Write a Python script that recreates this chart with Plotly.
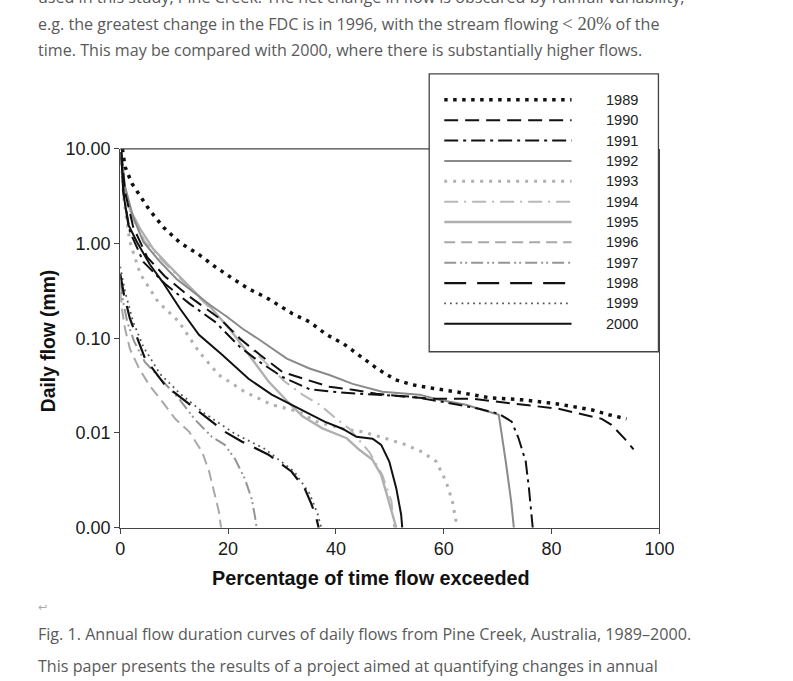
import plotly.graph_objects as go

W, H = 793, 681

# percentage of time flow exceeded / daily flow (mm)
pct_1989 = [0.4, 0.9, 2.2, 3.3, 5.4, 8.1, 11.1, 14.4, 17.6, 20.9, 23.8, 27.2, 32.0, 35.1, 38.3, 41.4,
            44.7, 47.7, 51.0, 54.2, 57.3, 62.3, 68.4, 74.5, 80.8, 87.4, 90.6, 93.9]
flow_1989 = [10.0, 6.46, 4.28, 3.44, 2.27, 1.47, 1.02, 0.78, 0.569, 0.425, 0.333, 0.267, 0.181, 0.149,
             0.109, 0.0875, 0.0638, 0.0476, 0.0365, 0.0323, 0.030, 0.0272, 0.0236, 0.0224, 0.0204,
             0.0176, 0.0156, 0.0141]

pct_1990 = [0.2, 0.9, 2.4, 5.0, 8.3, 12.9, 18.5, 22.2, 25.9, 30.1, 34.6, 38.8, 43.1, 47.5, 53.0, 57.9,
            65.2, 73.4, 81.3, 89.3, 91.1, 93.7, 95.2]
flow_1990 = [9.3, 3.5, 1.5, 0.72, 0.45, 0.274, 0.161, 0.099, 0.067, 0.044, 0.0365, 0.0308, 0.0286, 0.026,
             0.0241, 0.023, 0.023, 0.0204, 0.018, 0.0141, 0.0122, 0.0085, 0.0067]

pct_1991 = [0.2, 0.7, 1.8, 4.3, 8.3, 12.9, 17.6, 22.2, 25.9, 30.1, 35.1, 39.4, 44.4, 54.2, 59.7, 66.5,
            70.2, 72.6, 73.9, 75.2, 75.8, 76.5]
flow_1991 = [8.2, 3.1, 1.33, 0.64, 0.376, 0.231, 0.149, 0.081, 0.056, 0.039, 0.029, 0.0272, 0.026, 0.0241,
             0.0214, 0.018, 0.016, 0.0132, 0.0087, 0.0050, 0.0026, 0.001]

pct_1992 = [0.2, 0.9, 2.4, 4.3, 7.4, 10.5, 13.5, 16.6, 19.8, 22.7, 25.9, 30.9, 35.1, 38.8, 43.1, 48.6,
            55.5, 59.1, 64.1, 67.1, 70.2, 71.5, 72.5, 73.0]
flow_1992 = [8.9, 4.0, 1.9, 1.04, 0.64, 0.42, 0.31, 0.226, 0.169, 0.126, 0.096, 0.061, 0.048, 0.041, 0.033,
             0.0272, 0.0254, 0.0224, 0.0199, 0.0176, 0.0156, 0.0050, 0.0019, 0.001]

pct_1993 = [0.2, 0.7, 1.8, 3.7, 7.0, 10.9, 14.6, 18.3, 23.1, 28.1, 33.1, 36.4, 41.2, 44.9, 49.4, 53.0,
            56.0, 58.6, 60.4, 61.6, 62.5]
flow_1993 = [7.3, 2.8, 1.04, 0.48, 0.243, 0.149, 0.072, 0.041, 0.0272, 0.0199, 0.0168, 0.0132, 0.0111,
             0.0103, 0.0087, 0.0075, 0.0063, 0.0050, 0.0031, 0.0019, 0.001]

pct_1994 = [0.2, 0.7, 2.2, 4.6, 7.8, 10.9, 16.5, 20.1, 26.2, 30.5, 33.8, 37.0, 40.1, 42.5, 46.2, 48.6,
            50.3, 50.8]
flow_1994 = [8.5, 4.0, 1.9, 1.04, 0.66, 0.44, 0.21, 0.132, 0.061, 0.035, 0.0254, 0.0199, 0.0141, 0.0111,
             0.0063, 0.0036, 0.0019, 0.001]

pct_1995 = [0.2, 0.55, 1.8, 3.7, 6.1, 8.7, 13.3, 17.0, 20.7, 24.4, 27.5, 31.4, 33.8, 37.5, 42.0, 44.4,
            46.8, 48.4, 49.5, 50.5, 51.2]
flow_1995 = [8.0, 4.5, 2.3, 1.43, 0.88, 0.61, 0.33, 0.205, 0.117, 0.061, 0.035, 0.0205, 0.015, 0.0112,
             0.0088, 0.0066, 0.0052, 0.0036, 0.0022, 0.00137, 0.001]

pct_1996 = [0.0, 0.4, 0.9, 1.8, 3.5, 5.4, 7.8, 10.2, 12.8, 15.2, 16.5, 17.4, 18.3, 18.7]
flow_1996 = [0.31, 0.19, 0.126, 0.077, 0.048, 0.032, 0.0214, 0.0141, 0.0103, 0.0063, 0.0039, 0.0024,
             0.00148, 0.001]

pct_1997 = [0.0, 0.55, 1.3, 2.6, 4.6, 7.8, 10.9, 13.9, 17.0, 19.4, 21.3, 23.1, 24.4, 25.0, 25.3]
flow_1997 = [0.39, 0.243, 0.149, 0.092, 0.056, 0.036, 0.023, 0.0138, 0.0091, 0.0075, 0.0053, 0.0033,
             0.0020, 0.0013, 0.001]

pct_1998 = [0.0, 0.7, 1.8, 3.5, 4.6, 6.5, 8.3, 11.5, 14.6, 17.0, 19.4, 22.6, 27.5, 31.8, 34.2, 35.5,
            36.4, 36.8]
flow_1998 = [0.48, 0.288, 0.161, 0.092, 0.061, 0.044, 0.032, 0.023, 0.0168, 0.0132, 0.0103, 0.0081,
             0.0059, 0.0039, 0.0026, 0.00175, 0.00125, 0.001]

pct_1999 = [0.0, 0.9, 2.4, 4.3, 7.4, 11.1, 15.7, 21.3, 26.8, 32.3, 35.1, 36.6, 37.3]
flow_1999 = [0.57, 0.31, 0.149, 0.081, 0.042, 0.026, 0.016, 0.0098, 0.0068, 0.0039, 0.0023, 0.0014, 0.001]

pct_2000 = [0.2, 0.55, 1.5, 3.1, 5.5, 7.9, 11.1, 14.6, 18.9, 23.8, 28.1, 33.1, 37.9, 41.2, 43.8, 46.8,
            48.4, 49.9, 51.2, 52.1, 52.3]
flow_2000 = [9.3, 3.5, 1.58, 1.04, 0.60, 0.39, 0.205, 0.109, 0.067, 0.0374, 0.0254, 0.018, 0.0132, 0.0111,
             0.0091, 0.0087, 0.0075, 0.0050, 0.0026, 0.00137, 0.001]

years = ['1989', '1990', '1991', '1992', '1993', '1994', '1995', '1996', '1997', '1998', '1999', '2000']
x_ticks = [0, 20, 40, 60, 80, 100]
y_ticks = [0.001, 0.01, 0.1, 1, 10]
y_tick_text = ['0.00', '0.01', '0.10', '1.00', '10.00']

series = {
    '1989': (pct_1989, flow_1989), '1990': (pct_1990, flow_1990), '1991': (pct_1991, flow_1991),
    '1992': (pct_1992, flow_1992), '1993': (pct_1993, flow_1993), '1994': (pct_1994, flow_1994),
    '1995': (pct_1995, flow_1995), '1996': (pct_1996, flow_1996), '1997': (pct_1997, flow_1997),
    '1998': (pct_1998, flow_1998), '1999': (pct_1999, flow_1999), '2000': (pct_2000, flow_2000),
}

# line styles (colour, width, dash)
style = {
    '1989': ('#111111', 3.5, '3.5px,5.5px'),
    '1990': ('#111111', 2.0, '14px,7px'),
    '1991': ('#111111', 2.0, '14px,5px,3px,5px'),
    '1992': ('#8a8a8a', 2.0, 'solid'),
    '1993': ('#b0b0b0', 3.0, '3px,6px'),
    '1994': ('#b8b8b8', 2.0, '14px,6px,2px,6px'),
    '1995': ('#b0b0b0', 2.4, 'solid'),
    '1996': ('#a8a8a8', 2.0, '11px,6px'),
    '1997': ('#959595', 2.0, '12px,4px,2px,3px,2px,4px'),
    '1998': ('#111111', 2.2, '22px,11px'),
    '1999': ('#555555', 1.8, '1.8px,4px'),
    '2000': ('#111111', 2.0, 'solid'),
}
draw_order = ['1993', '1994', '1995', '1996', '1997', '1992', '1999', '1998', '1991', '1990', '1989', '2000']

# the snapshot comes back slightly shrunk and shifted, so page pixels are corrected here
SX, OX = 0.978, 4.4
SY, OY = 0.971, 8.1

def px(x):
    return (x - OX) / SX / W

def py(y):
    return 1 - (y - OY) / SY / H

fig = go.Figure()

for yr in draw_order:
    c, w, d = style[yr]
    xs, ys = series[yr]
    fig.add_trace(go.Scatter(x=xs, y=ys, mode='lines', line=dict(color=c, width=w, dash=d),
                             xaxis='x', yaxis='y', showlegend=False, hoverinfo='skip'))

# legend samples on their own little axes
for i, yr in enumerate(years):
    c, w, d = style[yr]
    fig.add_trace(go.Scatter(x=[0, 1], y=[i + 1, i + 1], mode='lines', line=dict(color=c, width=w, dash=d),
                             xaxis='x2', yaxis='y2', showlegend=False, hoverinfo='skip'))

axis_font = dict(family='Liberation Sans, Arial', size=18, color='#1a1a1a')
body_font = dict(family='Open Sans', size=16.1, color='#595959')

annotations = [
    dict(text='Daily flow (mm)', x=px(48), y=py(339), textangle=-90,
         font=dict(family='Liberation Sans, Arial', size=19.3, color='#111'), ),
    dict(text='Percentage of time flow exceeded', x=px(372), y=py(576),
         font=dict(family='Liberation Sans, Arial', size=19.8, color='#111')),
    dict(text='used in this study, Pine Creek. The net change in flow is obscured by rainfall variability,',
         x=px(36), y=py(-5), xanchor='left', font=body_font),
    dict(text='e.g. the greatest change in the FDC is in 1996, with the stream flowing '
              '<span style="font-family:\'Liberation Serif\'; font-size:18.5px">&lt; 20%</span> of the',
         x=px(36), y=py(22), xanchor='left', font=body_font),
    dict(text='time. This may be compared with 2000, where there is substantially higher flows.',
         x=px(36), y=py(48), xanchor='left', font=body_font),
    dict(text='\u21a9', x=px(36), y=py(606), xanchor='left',
         font=dict(family='DejaVu Sans', size=11, color='#aaaaaa')),
    dict(text='Fig. 1. Annual flow duration curves of daily flows from Pine Creek, Australia, 1989\u20132000.',
         x=px(36), y=py(632), xanchor='left', font=body_font),
    dict(text='This paper presents the results of a project aimed at quantifying changes in annual',
         x=px(36), y=py(664), xanchor='left', font=body_font),
]
for a in annotations[:2]:
    a['text'] = '<b>' + a['text'] + '</b>'
for a in annotations:
    a.update(xref='paper', yref='paper', showarrow=False)
    a.setdefault('xanchor', 'center')
    a['yanchor'] = 'middle'

for i, yr in enumerate(years):
    annotations.append(dict(text=yr, x=px(605), xref='paper', y=i + 1, yref='y2', xanchor='left',
                            yanchor='middle', showarrow=False,
                            font=dict(family='Liberation Sans, Arial', size=14.6, color='#222')))

shapes = [
    # legend frame
    dict(type='rect', xref='paper', yref='paper', x0=px(430), x1=px(660), y0=py(350), y1=py(72),
         line=dict(color='#444', width=1.3), fillcolor='white', layer='below'),
    # top frame of plot area
    dict(type='line', xref='paper', yref='paper', x0=px(120), x1=px(430), y0=py(147), y1=py(147),
         line=dict(color='#444', width=1.3)),
]

fig.update_layout(
    width=W, height=H,
    margin=dict(l=0, r=0, t=0, b=0),
    paper_bgcolor='white', plot_bgcolor='rgba(0,0,0,0)',
    showlegend=False,
    xaxis=dict(domain=[px(120), px(661)], range=[0, 100], tickvals=x_ticks, showline=True,
               linecolor='#444', linewidth=1.3, ticks='outside', ticklen=5, tickcolor='#444',
               showgrid=False, zeroline=False, tickfont=axis_font, anchor='y'),
    yaxis=dict(domain=[py(526), py(147)], type='log', range=[-3, 1], tickvals=y_ticks,
               ticktext=y_tick_text, showline=True, mirror=True, linecolor='#444', linewidth=1.3,
               ticks='outside', ticklen=5, tickcolor='#444', showgrid=False, zeroline=False,
               tickfont=axis_font, anchor='x'),
    xaxis2=dict(domain=[px(445), px(573)], range=[0, 1], visible=False, anchor='y2'),
    yaxis2=dict(domain=[py(332.18), py(87.82)], range=[12.5, 0.5], visible=False, anchor='x2'),
    annotations=annotations,
    shapes=shapes,
)

# pin the figure to the window corner so the page is exactly the window size
pin = ("var d=document.getElementById('{plot_id}');"
       "d.style.position='fixed';d.style.left='0px';d.style.top='0px';"
       "document.body.style.margin='0px';document.body.style.overflow='hidden';")
fig.write_html("out.html", config={'displayModeBar': False}, post_script=pin)
